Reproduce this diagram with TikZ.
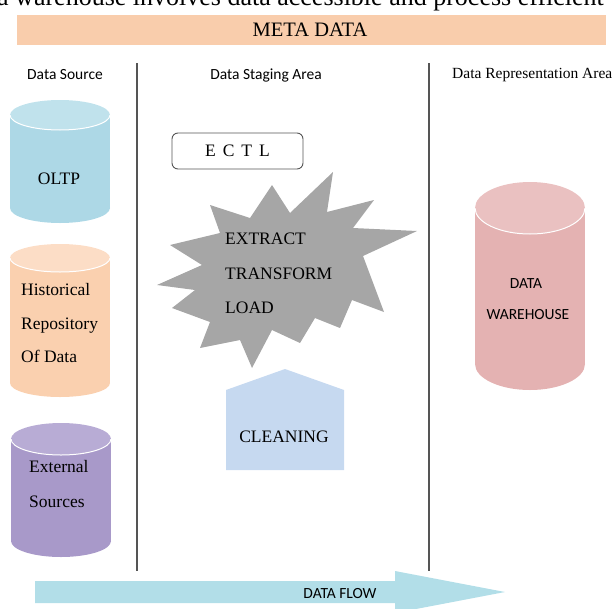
\documentclass[tikz,border=0pt]{standalone}
\usepackage{fontspec}
\setmainfont{Liberation Serif}
\newfontfamily\calib{Carlito}
\definecolor{metac}{RGB}{249,205,172}
\definecolor{oltpb}{RGB}{173,216,230}
\definecolor{oltpt}{RGB}{192,226,236}
\definecolor{histb}{RGB}{250,208,175}
\definecolor{histt}{RGB}{252,221,198}
\definecolor{extb}{RGB}{168,153,201}
\definecolor{extt}{RGB}{184,172,213}
\definecolor{whb}{RGB}{228,178,178}
\definecolor{wht}{RGB}{234,193,193}
\definecolor{stargray}{RGB}{166,166,166}
\definecolor{cleanc}{RGB}{198,217,240}
\definecolor{flowc}{RGB}{178,222,232}
\definecolor{linec}{RGB}{85,85,85}
\newcommand\dbcyl[7]{%
  \fill[#6] (#1-#4,#2) rectangle (#1+#4,#3);
  \fill[#6] (#1,#3) ellipse [x radius=#4, y radius=#5];
  \fill[#7] (#1,#2) ellipse [x radius=#4, y radius=#5];
  \begin{scope}
    \clip (#1-#4-2,#2) rectangle (#1+#4+2,#2+#5+2);
    \draw[white, line width=1pt] (#1,#2) ellipse [x radius=#4, y radius=#5];
  \end{scope}}
\begin{document}
\begin{tikzpicture}[x=1pt,y=-1pt,
  txt/.style={inner sep=0pt, anchor=base},
  txtw/.style={inner sep=0pt, anchor=base west},
  body/.style={font=\fontsize{17.5}{20}\selectfont},
  sans/.style={font=\calib\fontsize{15.5}{18}\selectfont},
  divline/.style={draw=linec, line width=1.4pt},
  ectlbox/.style={draw=linec, line width=0.9pt, rounded corners=6pt, fill=white,
    minimum width=131pt, minimum height=36pt, inner sep=0pt,
    font=\fontsize{17.5}{20}\selectfont}]
\useasboundingbox (0,0) rectangle (612,608);
\clip (0,0) rectangle (612,608);

% clipped line of text from the page above
\node[txtw, font=\fontsize{26}{30}\selectfont] (toptext) at (-3,5.5) {a warehouse involves data accessible and process efficient};

% meta data bar
\fill[metac] (17,15) rectangle (606,45);
\node[txt, font=\fontsize{20.5}{24}\selectfont] (meta) at (310,36) {META DATA};

% column dividers
\coordinate (d1t) at (137,63); \coordinate (d1b) at (137,571);
\coordinate (d2t) at (429,63); \coordinate (d2b) at (429,571);
\draw[divline] (d1t) -- (d1b);
\draw[divline] (d2t) -- (d2b);

% column headings
\node[txt, sans] (hsrc) at (65,79) {Data Source};
\node[txt, sans] (hstage) at (266,79) {Data Staging Area};
\node[txtw, font=\fontsize{15.5}{18}\selectfont] (hrep) at (452,78) {Data Representation Area};

% data source cylinders
\dbcyl{60}{115}{208}{50}{15}{oltpb}{oltpt}
\node[txt, body] (oltp) at (59,184) {OLTP};

\dbcyl{60}{258}{383}{50}{14}{histb}{histt}
\node[txtw, body] (hist1) at (21,295) {Historical};
\node[txtw, body] (hist2) at (21,329) {Repository};
\node[txtw, body] (hist3) at (21,362) {Of Data};

\dbcyl{61}{439}{541}{50}{16}{extb}{extt}
\node[txtw, body] (ext1) at (29,472) {External};
\node[txtw, body] (ext2) at (29,507) {Sources};

% staging area
\node[ectlbox] (ectl) at (237.5,151) {E\hspace{7pt}C\hspace{7pt}T\hspace{7pt}L};

\fill[stargray] (333,172) -- (327,212) -- (374,200) -- (353,228) -- (417,231)
  -- (363,256) -- (384,312) -- (352,300) -- (340,328) -- (315,318) -- (300,343)
  -- (272,330) -- (252,368) -- (240,340) -- (200,348) -- (210,322) -- (172,308)
  -- (195,290) -- (157,285) -- (202,265) -- (170,245) -- (220,233) -- (210,205)
  -- (250,218) -- (272,185) -- (290,213) -- cycle;
\node[txtw, body] (extract) at (225,244) {EXTRACT};
\node[txtw, body] (transform) at (225,279) {TRANSFORM};
\node[txtw, body] (load) at (225,313) {LOAD};

\fill[cleanc] (226,470) -- (226,390) -- (285,369) -- (344,390) -- (344,470) -- cycle;
\node[txt, body] (clean) at (284,442) {CLEANING};

% data warehouse
\dbcyl{530}{208}{364}{55}{26}{whb}{wht}
\node[txt, font=\calib\fontsize{15.5}{18}\selectfont] (dw1) at (526,288.5) {DATA};
\node[txt, font=\calib\fontsize{15.5}{18}\selectfont] (dw2) at (528,319) {WAREHOUSE};

% data flow arrow
\fill[flowc] (35,581) -- (395,581) -- (395,571) -- (505,592) -- (395,613)
  -- (395,603) -- (35,603) -- cycle;
\node[txt, sans] (flow) at (340,598) {DATA FLOW};
\end{tikzpicture}
\end{document}
